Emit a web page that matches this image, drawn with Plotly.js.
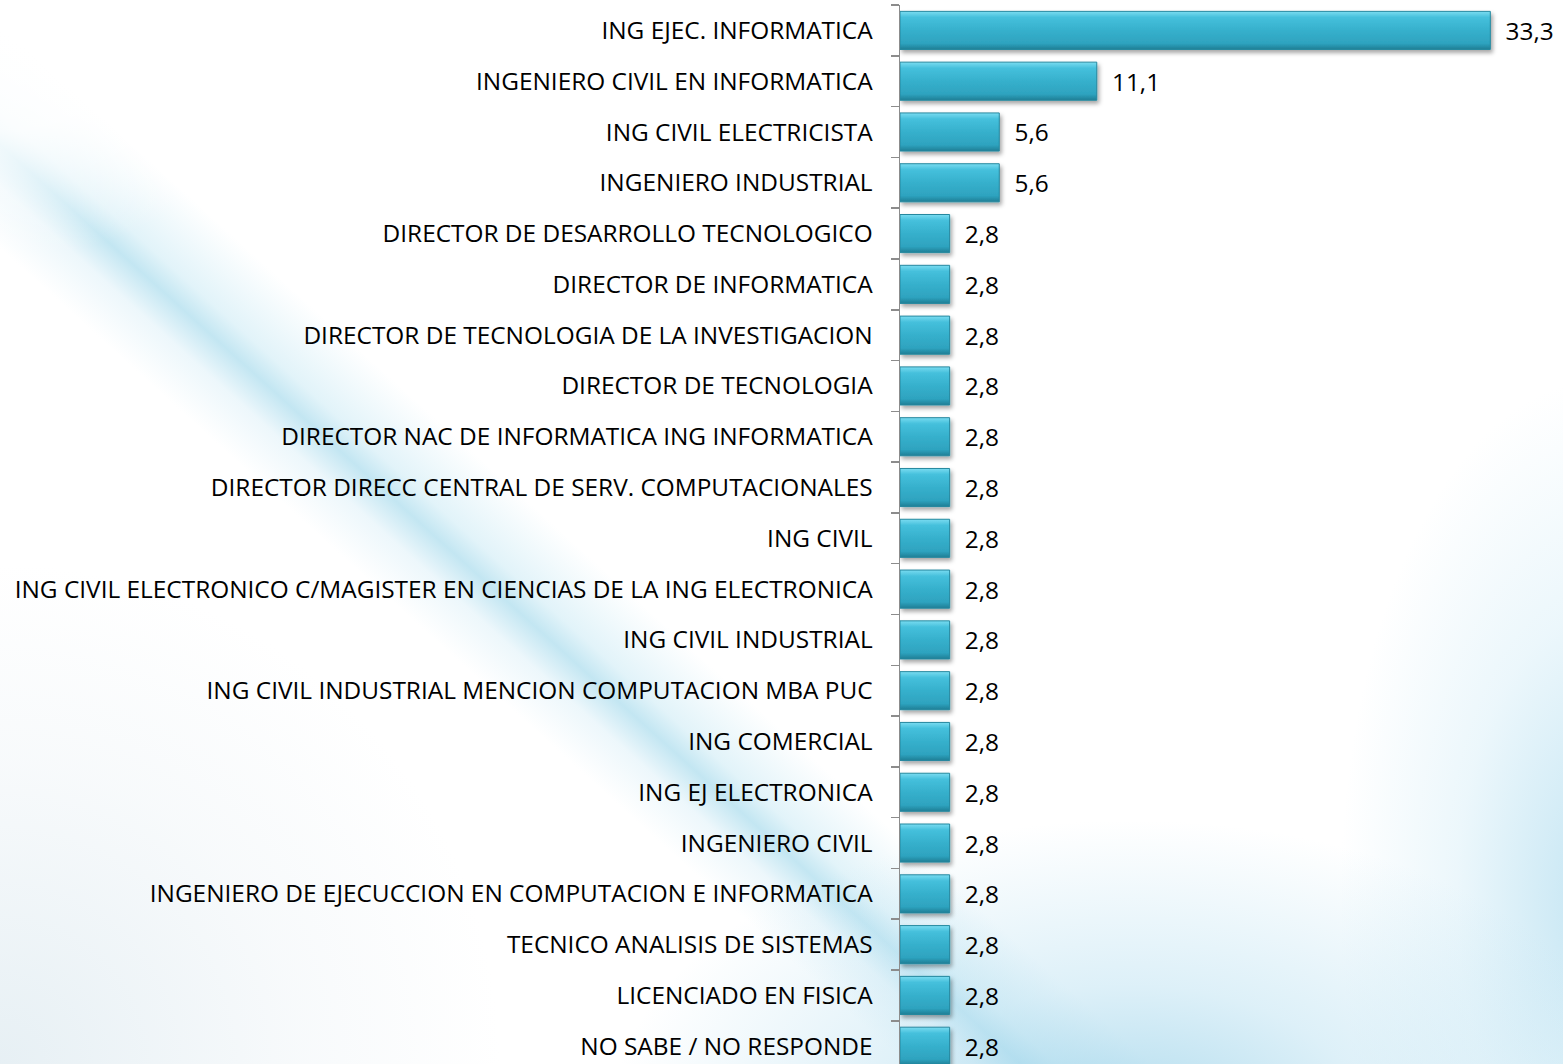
<!DOCTYPE html>
<html>
<head>
<meta charset="utf-8">
<script src="https://cdn.plot.ly/plotly-3.0.1.min.js"></script>
<style>
html,body{margin:0;padding:0;width:1563px;height:1064px;overflow:hidden;}
body{
  background:
    radial-gradient(ellipse 300px 260px at 0px 0px, rgba(255,255,255,1), rgba(255,255,255,0.85) 50%, rgba(255,255,255,0) 100%),
    radial-gradient(ellipse 520px 300px at 1130px 1120px, rgba(150,208,232,0.75), rgba(180,222,240,0.45) 45%, rgba(255,255,255,0) 100%),
    radial-gradient(ellipse 260px 520px at 1600px 900px, rgba(170,218,238,0.7), rgba(200,232,245,0.35) 55%, rgba(255,255,255,0) 100%),
    radial-gradient(ellipse 500px 500px at 0px 1064px, rgba(228,238,243,0.9), rgba(240,245,248,0.5) 60%, rgba(255,255,255,0) 100%),
    linear-gradient(42deg, rgba(255,255,255,0) 0%, rgba(255,255,255,0) 33%, rgba(225,242,249,0.6) 35.5%, rgba(180,224,239,0.8) 37.2%, rgba(210,237,246,0.65) 38.5%, rgba(255,255,255,0) 42%, rgba(255,255,255,0) 100%),
    #ffffff;
}
#chart{width:1563px;height:1064px;}
</style>
</head>
<body>
<div id="chart"></div>
<script>
const categories = [
  "ING EJEC. INFORMATICA",
  "INGENIERO CIVIL EN INFORMATICA",
  "ING CIVIL ELECTRICISTA",
  "INGENIERO INDUSTRIAL",
  "DIRECTOR DE DESARROLLO TECNOLOGICO",
  "DIRECTOR DE INFORMATICA",
  "DIRECTOR DE TECNOLOGIA DE LA INVESTIGACION",
  "DIRECTOR DE TECNOLOGIA",
  "DIRECTOR NAC DE INFORMATICA ING INFORMATICA",
  "DIRECTOR DIRECC CENTRAL DE SERV. COMPUTACIONALES",
  "ING CIVIL",
  "ING CIVIL ELECTRONICO C/MAGISTER EN CIENCIAS DE LA ING ELECTRONICA",
  "ING CIVIL INDUSTRIAL",
  "ING CIVIL INDUSTRIAL MENCION COMPUTACION MBA PUC",
  "ING COMERCIAL",
  "ING EJ ELECTRONICA",
  "INGENIERO CIVIL",
  "INGENIERO DE EJECUCCION EN COMPUTACION E INFORMATICA",
  "TECNICO ANALISIS DE SISTEMAS",
  "LICENCIADO EN FISICA",
  "NO SABE / NO RESPONDE"
];
const values = [33.3, 11.1, 5.6, 5.6, 2.8, 2.8, 2.8, 2.8, 2.8, 2.8, 2.8, 2.8, 2.8, 2.8, 2.8, 2.8, 2.8, 2.8, 2.8, 2.8, 2.8];
const valueLabels = values.map(v => "\u2002" + v.toFixed(1).replace(".", ","));

const FONT = "Open Sans, Lato, sans-serif";

const trace = {
  type: "bar",
  orientation: "h",
  y: categories,
  x: values,
  text: valueLabels,
  textposition: "outside",
  cliponaxis: false,
  textfont: {family: FONT, size: 24.4, color: "#000"},
  marker: {color: "#35AECB", line: {color: "#25889F", width: 1}},
  hoverinfo: "skip"
};

const layout = {
  width: 1563,
  height: 1064,
  margin: {l: 900, r: 0, t: 5, b: 0, pad: 0},
  paper_bgcolor: "rgba(0,0,0,0)",
  plot_bgcolor: "rgba(0,0,0,0)",
  showlegend: false,
  bargap: 0.25,
  xaxis: {
    range: [0, 37.4],
    visible: false,
    fixedrange: true
  },
  yaxis: {
    type: "category",
    range: [20.35, -0.5],
    showline: true,
    linecolor: "#8c8c8c",
    linewidth: 1.5,
    ticks: "outside",
    tickson: "boundaries",
    ticklen: 8,
    tickcolor: "#8c8c8c",
    tickwidth: 1.5,
    ticklabelstandoff: 21,
    showgrid: false,
    zeroline: false,
    tickfont: {family: FONT, size: 24.4, color: "#000"},
    automargin: false,
    fixedrange: true
  },
  font: {family: FONT, color: "#000"}
};

Plotly.newPlot("chart", [trace], layout, {displayModeBar: false, staticPlot: true}).then(gd => {
  // bevelled look for the bars: vertical gradient + soft shadow
  const svg = gd.querySelector("svg.main-svg");
  const ns = "http://www.w3.org/2000/svg";
  let defs = svg.querySelector("defs");
  if (!defs) { defs = document.createElementNS(ns, "defs"); svg.insertBefore(defs, svg.firstChild); }
  const grad = document.createElementNS(ns, "linearGradient");
  grad.setAttribute("id", "barGrad");
  grad.setAttribute("x1", "0"); grad.setAttribute("y1", "0");
  grad.setAttribute("x2", "0"); grad.setAttribute("y2", "1");
  [["0", "#7adcf1"], ["0.16", "#45c0dc"], ["0.5", "#36b0cc"], ["0.84", "#2ea3bf"], ["1", "#1f7e95"]].forEach(([o, c]) => {
    const s = document.createElementNS(ns, "stop");
    s.setAttribute("offset", o); s.setAttribute("stop-color", c);
    grad.appendChild(s);
  });
  defs.appendChild(grad);
  const filt = document.createElementNS(ns, "filter");
  filt.setAttribute("id", "barShadow");
  filt.setAttribute("x", "-10%"); filt.setAttribute("y", "-20%");
  filt.setAttribute("width", "130%"); filt.setAttribute("height", "160%");
  const sh = document.createElementNS(ns, "feDropShadow");
  sh.setAttribute("dx", "2"); sh.setAttribute("dy", "3");
  sh.setAttribute("stdDeviation", "2"); sh.setAttribute("flood-color", "#000");
  sh.setAttribute("flood-opacity", "0.35");
  filt.appendChild(sh);
  defs.appendChild(filt);
  gd.querySelectorAll(".barlayer .point path").forEach(p => {
    p.style.fill = "url(#barGrad)";
    p.setAttribute("filter", "url(#barShadow)");
  });
});
</script>
</body>
</html>
